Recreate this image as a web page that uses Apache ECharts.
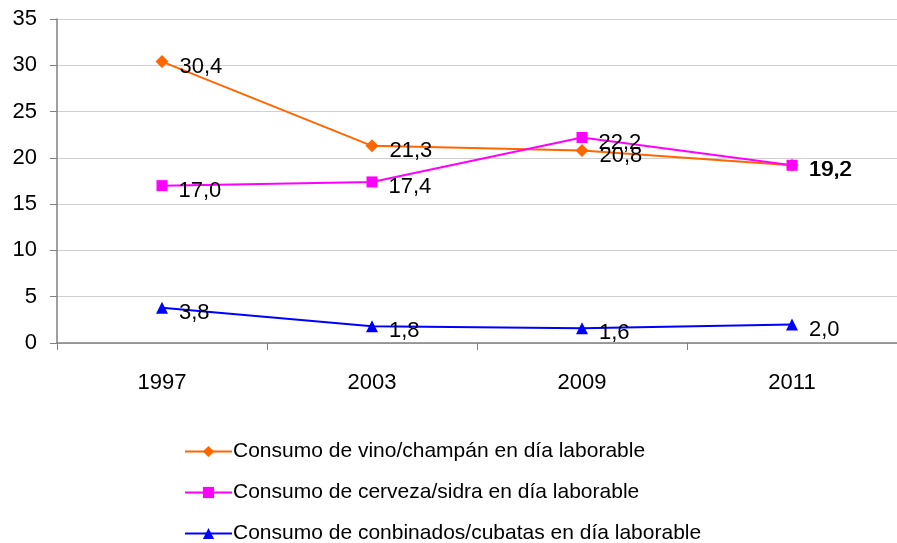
<!DOCTYPE html>
<html>
<head>
<meta charset="utf-8">
<script src="https://cdn.jsdelivr.net/npm/echarts@6/dist/echarts.min.js"></script>
<style>
html,body{margin:0;padding:0;background:#fff;}
#chart{width:897px;height:543px;}
</style>
</head>
<body>
<div id="chart"></div>
<script>
var years = ['1997', '2003', '2009', '2011'];
var vino = [30.4, 21.3, 20.8, 19.2];
var cerveza = [17.0, 17.4, 22.2, 19.2];
var combinados = [3.8, 1.8, 1.6, 2.0];
var seriesNames = [
	'Consumo de vino/champán en día laborable',
	'Consumo de cerveza/sidra en día laborable',
	'Consumo de conbinados/cubatas en día laborable'
];

var font = 'Liberation Sans';

function makeSeries(name, data, color, symbol, size) {
	return {
		name: name,
		type: 'line',
		data: data,
		symbol: symbol,
		symbolSize: size,
		lineStyle: { color: color, width: 2 },
		itemStyle: { color: color },
		label: {
			show: true,
			position: 'right',
			distance: 11,
			offset: [0, 5],
			color: '#000',
			fontFamily: font,
			fontSize: 22,
			formatter: function (p) {
				return p.value.toFixed(1).replace('.', ',');
			}
		}
	};
}

// one legend per row, stacked under the plot
function makeLegend(name, top) {
	return {
		left: 179,
		top: top,
		itemWidth: 47,
		itemHeight: 14,
		textStyle: { fontFamily: font, fontSize: 21, color: '#000', padding: [0, 0, 0, -4] },
		data: [name]
	};
}

var myChart = echarts.init(document.getElementById('chart'));
var option = {
	animation: false,
	grid: { left: 57, right: -3, top: 19, bottom: 200 },
	legend: [
		makeLegend(seriesNames[0], 436),
		makeLegend(seriesNames[1], 477),
		makeLegend(seriesNames[2], 518)
	],
	xAxis: {
		type: 'category',
		data: years,
		boundaryGap: true,
		axisLine: { lineStyle: { color: '#808080', width: 1.5 } },
		axisTick: { show: true, length: 7, lineStyle: { color: '#808080' } },
		axisLabel: { color: '#000', fontFamily: font, fontSize: 22, margin: 29 }
	},
	yAxis: {
		type: 'value',
		min: 0,
		max: 35,
		interval: 5,
		axisLine: { show: true, lineStyle: { color: '#808080', width: 1.5 } },
		axisTick: { show: true, length: 7, lineStyle: { color: '#808080' } },
		axisLabel: { color: '#000', fontFamily: font, fontSize: 22, margin: 20 },
		splitLine: { lineStyle: { color: '#d0d0d0' } }
	},
	series: [
		makeSeries(seriesNames[0], vino, '#ff6600', 'diamond', 13),
		makeSeries(seriesNames[1], cerveza, '#ff00ff', 'rect', 11),
		makeSeries(seriesNames[2], combinados, '#0000ff', 'triangle', 12)
	]
};
myChart.setOption(option);
</script>
</body>
</html>
